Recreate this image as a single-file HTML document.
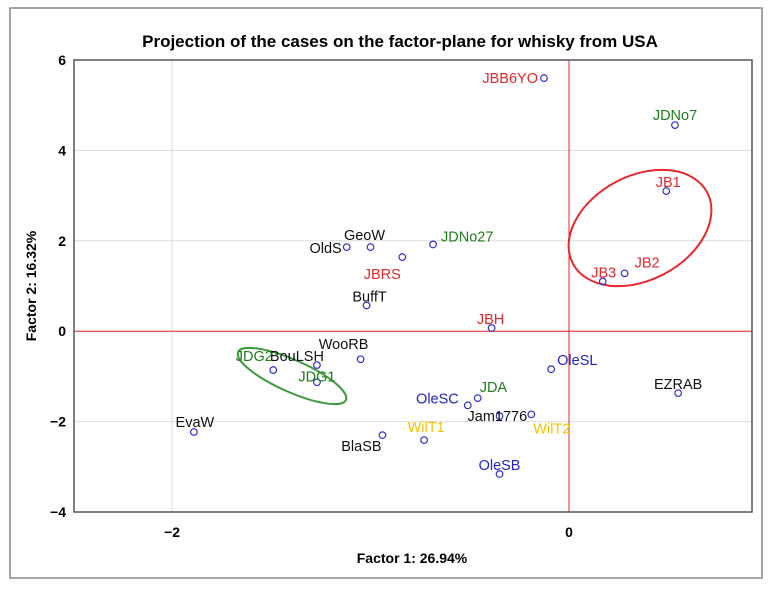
<!DOCTYPE html>
<html><head><meta charset="utf-8"><style>
body{margin:0;background:#fff;}
svg{display:block;font-family:"Liberation Sans",sans-serif;}
</style></head><body>
<svg id="c" width="774" height="591">
<rect x="10" y="8" width="752" height="570" fill="none" stroke="#888" stroke-width="1.5"/>
<text x="400" y="47" text-anchor="middle" font-size="17" font-weight="bold">Projection of the cases on the factor-plane for whisky from USA</text>
<text x="412" y="563" text-anchor="middle" font-size="14" font-weight="bold">Factor 1: 26.94%</text>
<text transform="translate(36,286) rotate(-90)" text-anchor="middle" font-size="14" font-weight="bold">Factor 2: 16.32%</text>
<g id="plot"></g>
</svg>
<script>
const names=["JBB6YO","JDNo7","JB1","JB2","JB3","GeoW","OldS","JBRS","JDNo27","BuffT","JBH","WooRB","BouLSH","JDG2","JDG1","OleSL","EZRAB","JDA","OleSC","Jam1776","WilT2","EvaW","BlaSB","WilT1","OleSB"];
const f1=[-0.126,0.534,0.49,0.28,0.17,-1.0,-1.12,-0.84,-0.685,-1.02,-0.39,-1.05,-1.27,-1.49,-1.27,-0.09,0.55,-0.46,-0.51,-0.35,-0.19,-1.89,-0.94,-0.73,-0.35];
const f2=[5.6,4.56,3.1,1.28,1.1,1.86,1.86,1.64,1.92,0.57,0.07,-0.62,-0.75,-0.86,-1.13,-0.84,-1.37,-1.48,-1.64,-1.88,-1.84,-2.23,-2.3,-2.41,-3.16];
const groups=["r","g","r","r","r","k","k","r","g","k","r","k","k","g","g","b","k","g","b","k","y","k","k","y","b"];
const xTicks=[-2,0];
const yTicks=[-4,-2,0,2,4,6];
const X0=74,X1=752,Y0=60,Y1=512,xmin=-2.494,xmax=0.922,ymin=-4,ymax=6;
const sx=v=>X0+(v-xmin)/(xmax-xmin)*(X1-X0);
const sy=v=>Y1-(v-ymin)/(ymax-ymin)*(Y1-Y0);
const col={r:"#e8262b",g:"#1e7b1e",b:"#2323c8",y:"#f2c200",k:"#111"};
const off={JBB6YO:[-6,5,"end"],JDNo7:[0,-5,"middle"],JB1:[2,-4,"middle"],JB2:[10,-6,"start"],JB3:[1,-4,"middle"],GeoW:[-6,-7,"middle"],OldS:[-5,6,"end"],JBRS:[-20,22,"middle"],JDNo27:[8,-3,"start"],BuffT:[3,-4,"middle"],JBH:[-1,-4,"middle"],WooRB:[-17,-10,"middle"],BouLSH:[-20,-4,"middle"],JDG2:[-19,-9,"middle"],JDG1:[0,-1,"middle"],OleSL:[6,-4,"start"],EZRAB:[0,-4,"middle"],JDA:[2,-6,"start"],OleSC:[-9,-2,"end"],Jam1776:[-32,5,"start"],WilT2:[2,19,"start"],EvaW:[1,-5,"middle"],BlaSB:[-21,16,"middle"],WilT1:[2,-8,"middle"],OleSB:[0,-4,"middle"]};
const NS="http://www.w3.org/2000/svg";
const g=document.getElementById("plot");
function mk(t,a){const e=document.createElementNS(NS,t);for(const k in a)e.setAttribute(k,a[k]);g.appendChild(e);return e;}
yTicks.forEach(v=>{
 const l=mk("line",{x1:X0,x2:X1,y1:sy(v),y2:sy(v),stroke:"#ddd"});
 
 
 const t=mk("text",{x:X0-8,y:sy(v)+5,"text-anchor":"end","font-size":14,"font-weight":"bold"});t.textContent=v<0?"−"+(-v):v;
 
 
});
xTicks.forEach(v=>{
 const l=mk("line",{x1:sx(v),x2:sx(v),y1:Y0,y2:Y1,stroke:"#ddd"});
 
 
 const t=mk("text",{x:sx(v),y:Y1+25,"text-anchor":"middle","font-size":14,"font-weight":"bold"});t.textContent=v<0?"−"+(-v):v;
 
 
});
let h=mk("line",{x1:X0,x2:X1,y1:sy(0),y2:sy(0),stroke:"#e8262b"});


let vv=mk("line",{x1:sx(0),x2:sx(0),y1:Y0,y2:Y1,stroke:"#e8262b"});


let fr=mk("rect",{x:X0,y:Y0,width:X1-X0,height:Y1-Y0,fill:"none",stroke:"#555","stroke-width":1.5});


let e1=mk("ellipse",{cx:640,cy:228,rx:76,ry:52,transform:"rotate(-28 640 228)",fill:"none",stroke:"#e8262b","stroke-width":2});


let e2=mk("ellipse",{cx:292,cy:376,rx:59,ry:16,transform:"rotate(24 292 376)",fill:"none",stroke:"#3a9a3a","stroke-width":2});


names.forEach((n,i)=>{
 const x=sx(f1[i]),y=sy(f2[i]);
 const c=mk("circle",{cx:x,cy:y,r:3.3,fill:"none",stroke:"#3030d0","stroke-width":1.2});
 
 
 const o=off[n];
 const t=mk("text",{x:x+o[0],y:y+o[1],"text-anchor":o[2],"font-size":14.5,fill:col[groups[i]]});
 t.textContent=n;
 
 
});
</script>
</body></html>
